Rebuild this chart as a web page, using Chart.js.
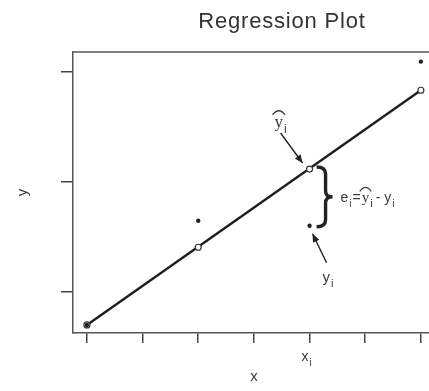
<!DOCTYPE html>
<html lang="en">
<head>
<meta charset="UTF-8">
<title>Regression Plot</title>
<script src="https://cdn.jsdelivr.net/npm/chart.js"></script>
<style>
  html, body { margin: 0; padding: 0; background: #fff; overflow: hidden; }
</style>
</head>
<body>
<canvas id="regChart" width="440" height="391"></canvas>
<script>
// data
const titleText = 'Regression Plot';
const xTicks = [0, 1, 2, 3, 4, 5, 6];
const yTicks = [1, 2, 3];
const xObs = [0, 2, 4, 6];
const yObs = [0.70, 1.645, 1.60, 3.09];   // observed y
const yFit = [0.70, 1.405, 2.115, 2.83];  // fitted y-hat
const iMark = 2;                          // the point labelled with i

const FONT = '"Liberation Sans", Arial, sans-serif';
const SERIF = '"Liberation Serif", "DejaVu Serif", serif';
const INK = '#3c3c3c';

function arrow(ctx, x1, y1, x2, y2) {
    const ang = Math.atan2(y2 - y1, x2 - x1), h = 9;
    ctx.beginPath(); ctx.moveTo(x1, y1); ctx.lineTo(x2, y2); ctx.stroke();
    ctx.beginPath();
    ctx.moveTo(x2, y2);
    ctx.lineTo(x2 - h * Math.cos(ang - 0.4), y2 - h * Math.sin(ang - 0.4));
    ctx.lineTo(x2 - h * Math.cos(ang + 0.4), y2 - h * Math.sin(ang + 0.4));
    ctx.closePath(); ctx.fill();
}

function hat(ctx, cx, y, w) {
    ctx.beginPath();
    ctx.moveTo(cx - w / 2, y + 3);
    ctx.quadraticCurveTo(cx, y - 5, cx + w / 2, y + 3);
    ctx.stroke();
}

// letter with subscript i, returns x after it
function withSub(ctx, base, x, y, size, family, hatted) {
    ctx.font = size + 'px ' + family;
    ctx.fillText(base, x, y);
    const w = ctx.measureText(base).width;
    if (hatted) { ctx.lineWidth = 1.3; hat(ctx, x + w / 2, y - size * 0.9, w + 4); }
    ctx.font = Math.round(size * 0.7) + 'px ' + FONT;
    ctx.fillText('i', x + w + 1, y + size * 0.35);
    return x + w + 1 + ctx.measureText('i').width;
}

const notes = {
    id: 'notes',
    afterDraw(chart) {
        const {ctx, chartArea: a, scales: {x, y}} = chart;
        ctx.save();
        // rest of the frame
        ctx.strokeStyle = '#555'; ctx.lineWidth = 1.5;
        ctx.beginPath();
        ctx.moveTo(a.left, a.top); ctx.lineTo(a.right, a.top); ctx.lineTo(a.right, a.bottom);
        ctx.stroke();

        // title
        ctx.fillStyle = '#333';
        ctx.font = '22px ' + FONT;
        ctx.letterSpacing = '0.8px';
        ctx.textAlign = 'center';
        ctx.textBaseline = 'alphabetic';
        ctx.fillText(titleText, 282, 28);
        ctx.letterSpacing = '0px';
        ctx.textAlign = 'left';

        const px = x.getPixelForValue(xObs[iMark]);
        const pf = y.getPixelForValue(yFit[iMark]);
        const po = y.getPixelForValue(yObs[iMark]);

        ctx.fillStyle = INK; ctx.strokeStyle = INK;
        // y-hat label and arrow
        withSub(ctx, 'y', px - 35, pf - 42, 17, SERIF, true);
        ctx.strokeStyle = '#222'; ctx.fillStyle = '#222'; ctx.lineWidth = 1.4;
        arrow(ctx, px - 29, pf - 36, px - 7, pf - 6);

        // brace between fitted and observed
        const x0 = px + 7, xm = px + 16, xt = px + 23, t = pf - 2, b = po + 1, mid = (t + b) / 2;
        ctx.lineWidth = 3.4;
        ctx.beginPath();
        ctx.moveTo(x0, t);
        ctx.quadraticCurveTo(xm, t, xm, t + 7);
        ctx.lineTo(xm, mid - 6);
        ctx.quadraticCurveTo(xm, mid, xt, mid);
        ctx.quadraticCurveTo(xm, mid, xm, mid + 6);
        ctx.lineTo(xm, b - 7);
        ctx.quadraticCurveTo(xm, b, x0, b);
        ctx.stroke();

        // e_i = y-hat_i - y_i
        ctx.fillStyle = INK; ctx.strokeStyle = INK;
        let cx = px + 31;
        const by = mid + 5;
        cx = withSub(ctx, 'e', cx, by, 14, FONT, false);
        ctx.font = '14px ' + FONT;
        ctx.fillText('=', cx + 1, by); cx += ctx.measureText('=').width + 2;
        cx = withSub(ctx, 'y', cx, by, 15, SERIF, true);
        ctx.font = '14px ' + FONT;
        ctx.fillText('-', cx + 3, by); cx += ctx.measureText('-').width + 7;
        withSub(ctx, 'y', cx, by, 14, FONT, false);

        // y_i label and arrow
        ctx.strokeStyle = '#222'; ctx.fillStyle = '#222'; ctx.lineWidth = 1.4;
        arrow(ctx, px + 17, po + 37, px + 3, po + 8);
        ctx.fillStyle = INK;
        withSub(ctx, 'y', px + 13, po + 56, 15, FONT, false);

        // x_i under the axis
        withSub(ctx, 'x', px - 8, a.bottom + 28, 14, FONT, false);
        ctx.restore();
    }
};

const pts = (xs, ys) => xs.map((v, i) => ({x: v, y: ys[i]}));
const last = xObs.length - 1;

new Chart(document.getElementById('regChart'), {
    type: 'scatter',
    data: {
        datasets: [
            {
                label: 'fit line',
                data: [{x: xObs[0], y: yFit[0]}, {x: xObs[last], y: yFit[last]}],
                showLine: true, borderColor: '#1e1e1e', borderWidth: 2.4, pointRadius: 0, order: 3
            },
            {
                label: 'fitted',
                data: pts(xObs, yFit),
                pointRadius: 3, backgroundColor: '#fff', borderColor: '#333', borderWidth: 1.2, order: 2
            },
            {
                label: 'observed',
                data: pts(xObs, yObs),
                pointRadius: 2.2, backgroundColor: '#222', borderColor: '#222', borderWidth: 0, order: 1
            }
        ]
    },
    options: {
        responsive: false,
        animation: false,
        events: [],
        layout: { padding: { top: 52, right: 3, left: 0, bottom: 0 } },
        plugins: { legend: { display: false }, tooltip: { enabled: false } },
        scales: {
            x: {
                type: 'linear', min: -0.25, max: 6.25,
                afterBuildTicks: s => { s.ticks = xTicks.map(v => ({value: v})); },
                afterFit: s => { s.height = 58; },
                ticks: { display: false },
                grid: { drawOnChartArea: false, tickLength: 10, color: '#444', lineWidth: 1.5 },
                border: { color: '#555', width: 1.5 },
                title: { display: true, text: 'x', color: INK, font: { family: FONT, size: 15 }, padding: { bottom: 5 } }
            },
            y: {
                type: 'linear', min: 0.627, max: 3.177,
                afterBuildTicks: s => { s.ticks = yTicks.map(v => ({value: v})); },
                afterFit: s => { s.width = 73; },
                ticks: { display: false },
                grid: { drawOnChartArea: false, tickLength: 12, color: '#444', lineWidth: 1.5 },
                border: { color: '#555', width: 1.5 },
                title: { display: true, text: 'y', color: INK, font: { family: FONT, size: 15 }, padding: { top: 14 } }
            }
        }
    },
    plugins: [notes]
});
</script>
</body>
</html>
